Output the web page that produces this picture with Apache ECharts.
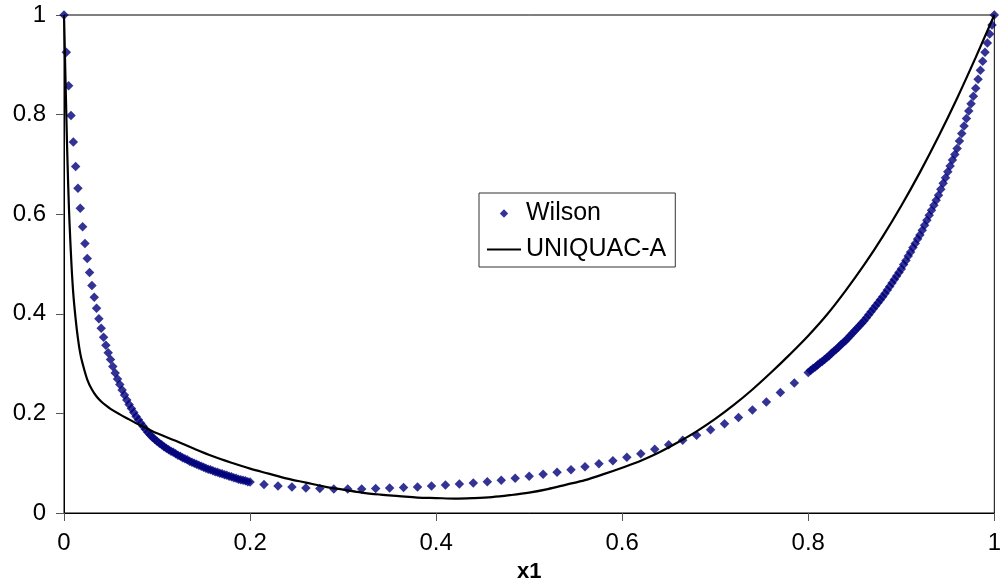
<!DOCTYPE html>
<html><head><meta charset="utf-8">
<script src="https://cdn.jsdelivr.net/npm/echarts@6/dist/echarts.min.js"></script>
<style>html,body{margin:0;padding:0;background:#fff}#c{width:1004px;height:588px}</style>
</head><body><div id="c"></div>
<script>
// Wilson points, dense part near x1 = 0
const wilsonXLow = [0,0.0025,0.005,0.0075,0.01,0.0125,0.015,0.0175,0.02,0.0225,0.025,0.0275,0.03,0.0325,0.035,0.0375,0.04,0.0425,0.045,0.0475,0.05,0.0525,0.055,0.0575,0.06,0.0625,0.065,0.0675,0.07,0.0725,0.075,0.0775,0.08,0.0825,0.085,0.0875,0.09,0.0925,0.095,0.0975,0.1,0.1025,0.105,0.1075,0.11,0.1125,0.115,0.1175,0.12,0.1225,0.125,0.1275,0.13,0.1325,0.135,0.1375,0.14,0.1425,0.145,0.1475,0.15,0.1525,0.155,0.1575,0.16,0.1625,0.165,0.1675,0.17,0.1725,0.175,0.1775,0.18,0.1825,0.185,0.1875,0.19,0.1925,0.195,0.1975,0.2];
const wilsonYLow = [1.000,0.925,0.858,0.798,0.745,0.696,0.652,0.612,0.575,0.541,0.511,0.483,0.457,0.433,0.411,0.390,0.371,0.353,0.337,0.322,0.308,0.294,0.281,0.269,0.258,0.247,0.237,0.227,0.218,0.210,0.202,0.194,0.187,0.180,0.174,0.168,0.162,0.157,0.152,0.148,0.144,0.140,0.137,0.133,0.130,0.127,0.124,0.122,0.119,0.116,0.114,0.111,0.109,0.107,0.104,0.102,0.100,0.098,0.096,0.094,0.092,0.090,0.088,0.087,0.085,0.083,0.082,0.080,0.079,0.077,0.076,0.074,0.073,0.071,0.070,0.068,0.067,0.066,0.065,0.063,0.062];
// Wilson points, sparse middle part
const wilsonXMid = [0.215,0.23,0.245,0.26,0.275,0.29,0.305,0.32,0.335,0.35,0.365,0.38,0.395,0.41,0.425,0.44,0.455,0.47,0.485,0.5,0.515,0.53,0.545,0.56,0.575,0.59,0.605,0.62,0.635,0.65,0.665,0.68,0.695,0.71,0.725,0.74,0.755,0.77,0.785];
const wilsonYMid = [0.057,0.054,0.052,0.050,0.049,0.048,0.048,0.048,0.049,0.050,0.051,0.052,0.054,0.056,0.058,0.060,0.063,0.066,0.070,0.074,0.078,0.082,0.087,0.093,0.099,0.105,0.112,0.119,0.128,0.137,0.146,0.156,0.167,0.179,0.192,0.207,0.223,0.242,0.261];
// Wilson points, dense part near x1 = 1
const wilsonXHigh = [0.8,0.8025,0.805,0.8075,0.81,0.8125,0.815,0.8175,0.82,0.8225,0.825,0.8275,0.83,0.8325,0.835,0.8375,0.84,0.8425,0.845,0.8475,0.85,0.8525,0.855,0.8575,0.86,0.8625,0.865,0.8675,0.87,0.8725,0.875,0.8775,0.88,0.8825,0.885,0.8875,0.89,0.8925,0.895,0.8975,0.9,0.9025,0.905,0.9075,0.91,0.9125,0.915,0.9175,0.92,0.9225,0.925,0.9275,0.93,0.9325,0.935,0.9375,0.94,0.9425,0.945,0.9475,0.95,0.9525,0.955,0.9575,0.96,0.9625,0.965,0.9675,0.97,0.9725,0.975,0.9775,0.98,0.9825,0.985,0.9875,0.99,0.9925,0.995,0.9975,1];
const wilsonYHigh = [0.282,0.286,0.290,0.293,0.297,0.301,0.304,0.308,0.312,0.316,0.321,0.325,0.329,0.333,0.338,0.342,0.346,0.351,0.356,0.361,0.366,0.371,0.376,0.381,0.386,0.392,0.398,0.404,0.410,0.416,0.422,0.428,0.434,0.441,0.448,0.455,0.462,0.469,0.476,0.483,0.490,0.499,0.507,0.516,0.524,0.533,0.541,0.550,0.558,0.568,0.578,0.588,0.598,0.608,0.618,0.628,0.638,0.650,0.662,0.673,0.685,0.697,0.709,0.720,0.732,0.747,0.762,0.777,0.792,0.807,0.822,0.837,0.853,0.871,0.889,0.907,0.925,0.944,0.962,0.980,1.000];
// UNIQUAC-A curve
const uniquacX = [0,0.001,0.002,0.003,0.004,0.005,0.006,0.008,0.01,0.0125,0.015,0.0175,0.02,0.025,0.03,0.035,0.04,0.045,0.05,0.06,0.07,0.08,0.09,0.1,0.12,0.14,0.16,0.18,0.2,0.22,0.24,0.26,0.28,0.3,0.32,0.34,0.36,0.38,0.4,0.42,0.44,0.46,0.48,0.5,0.52,0.54,0.56,0.58,0.6,0.62,0.64,0.66,0.68,0.7,0.72,0.74,0.76,0.78,0.8,0.82,0.84,0.86,0.88,0.9,0.92,0.94,0.96,0.98,1];
const uniquacY = [1.0,0.92,0.84,0.76,0.69,0.63,0.58,0.5,0.44,0.39,0.35,0.32,0.30,0.268,0.248,0.234,0.224,0.216,0.209,0.198,0.188,0.178,0.169,0.160,0.145,0.129,0.114,0.101,0.089,0.079,0.069,0.061,0.053,0.047,0.041,0.037,0.034,0.031,0.030,0.029,0.030,0.032,0.036,0.041,0.048,0.057,0.066,0.078,0.091,0.105,0.122,0.142,0.164,0.189,0.217,0.248,0.282,0.318,0.356,0.398,0.446,0.498,0.555,0.617,0.684,0.756,0.833,0.915,1.0];
const seriesNames = ['Wilson', 'UNIQUAC-A'];
const xTickLabels = ['0','0.2','0.4','0.6','0.8','1'];
const yTickLabels = ['0','0.2','0.4','0.6','0.8','1'];
const xAxisTitle = 'x1';

const zip = (xs, ys) => xs.map((x, i) => [x, ys[i]]);
const wilsonData = zip(wilsonXLow, wilsonYLow).concat(zip(wilsonXMid, wilsonYMid), zip(wilsonXHigh, wilsonYHigh));
const uniquacData = zip(uniquacX, uniquacY);

// legend icons drawn in a 34x9 box (tiny corner dots fix the box size)
const corners = 'M0,0 L0.01,0 L0.01,0.01 Z M34,9 L33.99,9 L33.99,8.99 Z ';
const diamondIcon = 'path://' + corners + 'M17,0.3 L21.2,4.5 L17,8.7 L12.8,4.5 Z';
const lineIcon = 'path://' + corners + 'M0,3.5 L34,3.5 L34,5.6 L0,5.6 Z';

const FONT = 'Liberation Sans, Arial, sans-serif';
const chart = echarts.init(document.getElementById('c'), null, {renderer: 'canvas'});
chart.setOption({
  animation: false,
  backgroundColor: '#fff',
  grid: {left: 64, right: 6, top: 15, bottom: 70, show: true, borderColor: '#000', borderWidth: 1, backgroundColor: 'transparent'},
  xAxis: {
    type: 'value', min: 0, max: 1, interval: 0.2,
    name: xAxisTitle, nameLocation: 'middle', nameGap: 48,
    nameTextStyle: {fontFamily: FONT, fontSize: 22, fontWeight: 'bold', color: '#000', verticalAlign: 'top'},
    axisLine: {show: true, lineStyle: {color: '#000', width: 1}},
    axisTick: {show: true, length: 8, lineStyle: {color: '#555'}},
    splitLine: {show: false},
    axisLabel: {fontFamily: FONT, fontSize: 24, color: '#000', margin: 18,
      formatter: v => xTickLabels[Math.round(v * 5)]}
  },
  yAxis: {
    type: 'value', min: 0, max: 1, interval: 0.2,
    axisLine: {show: true, lineStyle: {color: '#000', width: 1}},
    axisTick: {show: true, length: 8, lineStyle: {color: '#555'}},
    splitLine: {show: false},
    axisLabel: {fontFamily: FONT, fontSize: 24, color: '#000', margin: 18,
      formatter: v => yTickLabels[Math.round(v * 5)]}
  },
  legend: {
    left: 479, top: 193, orient: 'vertical',
    padding: [8, 9, 5, 8], itemGap: 11, itemWidth: 34, itemHeight: 9,
    borderColor: '#333', borderWidth: 1, backgroundColor: '#fff',
    textStyle: {fontFamily: FONT, fontSize: 25, color: '#000'},
    data: [
      {name: seriesNames[0], icon: diamondIcon, itemStyle: {color: '#000080', borderWidth: 0}, lineStyle: {width: 0}},
      {name: seriesNames[1], icon: lineIcon, itemStyle: {color: '#000', borderWidth: 0}, lineStyle: {width: 0}}
    ]
  },
  series: [
    {name: seriesNames[0], type: 'scatter', data: wilsonData, symbol: 'diamond', symbolSize: 9.5,
     itemStyle: {color: '#00007a'}, z: 2},
    {name: seriesNames[1], type: 'line', data: uniquacData, symbol: 'none', smooth: 0.35,
     itemStyle: {color: '#000'}, lineStyle: {color: '#000', width: 2.2}, z: 3}
  ]
});
</script></body></html>
